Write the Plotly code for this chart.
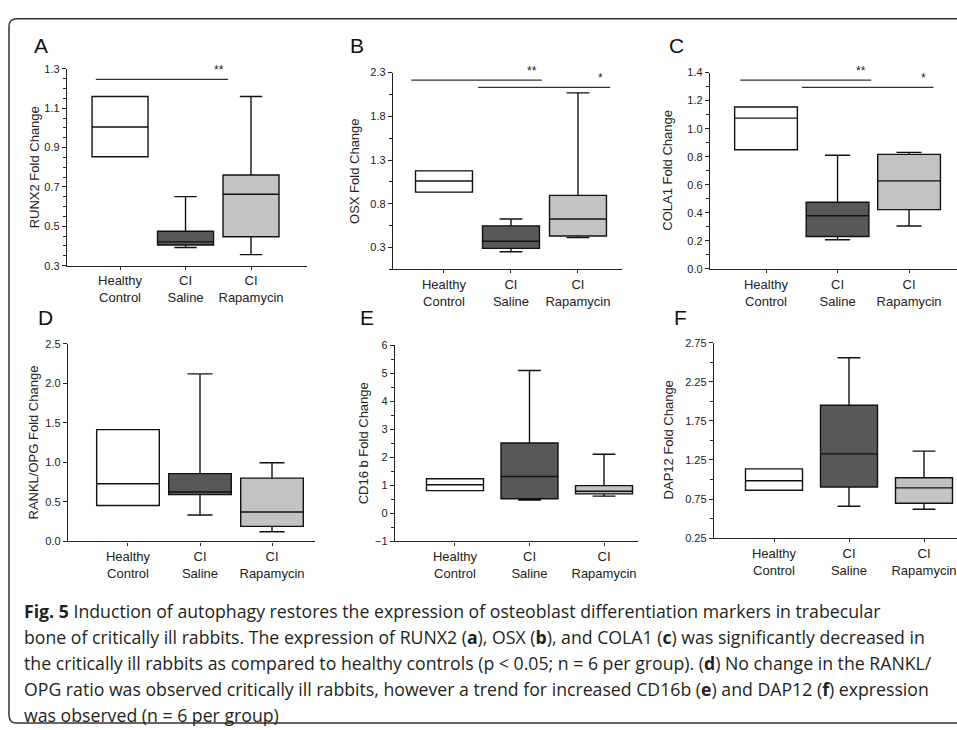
import plotly.graph_objects as go

W, H = 957, 730

# ---------------- data ----------------
CATEGORIES = ["Healthy<br>Control", "CI<br>Saline", "CI<br>Rapamycin"]

RUNX2 = dict(low=[0.854, 0.392, 0.356], q1=[0.854, 0.405, 0.447], med=[1.005, 0.421, 0.663],
             q3=[1.160, 0.475, 0.761], high=[1.160, 0.651, 1.160])
OSX = dict(low=[0.933, 0.251, 0.412], q1=[0.933, 0.289, 0.431], med=[1.060, 0.371, 0.626],
           q3=[1.176, 0.547, 0.896], high=[1.176, 0.626, 2.068])
COLA1 = dict(low=[0.850, 0.208, 0.306], q1=[0.850, 0.231, 0.423], med=[1.075, 0.379, 0.628],
             q3=[1.155, 0.475, 0.817], high=[1.155, 0.810, 0.831])
RANKL_OPG = dict(low=[0.454, 0.334, 0.122], q1=[0.454, 0.591, 0.189], med=[0.728, 0.625, 0.371],
                 q3=[1.413, 0.857, 0.799], high=[1.413, 2.118, 0.994])
CD16B = dict(low=[0.810, 0.473, 0.614], q1=[0.810, 0.520, 0.695], med=[1.020, 1.316, 0.790],
             q3=[1.234, 2.510, 0.990], high=[1.234, 5.100, 2.110])
DAP12 = dict(low=[0.862, 0.657, 0.619], q1=[0.862, 0.904, 0.695], med=[0.984, 1.328, 0.892],
             q3=[1.135, 1.949, 1.022], high=[1.135, 2.557, 1.362])

# significance bars: (x start, x end, y, label)
SIG_RUNX2 = [(-0.37, 1.65, 1.247, "**")]
SIG_OSX = [(-0.49, 1.46, 2.214, "**"), (0.51, 2.48, 2.131, "*")]
SIG_COLA1 = [(-0.36, 1.47, 1.346, "**"), (0.50, 2.34, 1.295, "*")]

CAPTION_LINES = [
    "<b>Fig. 5</b> Induction of autophagy restores the expression of osteoblast differentiation markers in trabecular",
    "bone of critically ill rabbits. The expression of RUNX2 (<b>a</b>), OSX (<b>b</b>), and COLA1 (<b>c</b>) was significantly decreased in",
    "the critically ill rabbits as compared to healthy controls (p &lt; 0.05; n = 6 per group). (<b>d</b>) No change in the RANKL/",
    "OPG ratio was observed critically ill rabbits, however a trend for increased CD16b (<b>e</b>) and DAP12 (<b>f</b>) expression",
    "was observed (n = 6 per group)",
]

# ---------------- style / layout ----------------
FILLS = ["#ffffff", "#585858", "#c3c3c3"]
INK = "#222222"
FONT = "Liberation Sans, Arial, sans-serif"

panels = [
    dict(data=RUNX2, title="RUNX2 Fold Change", letter="A", sig=SIG_RUNX2,
         px=(67, 307), py=(64, 264), xr=(-0.81, 2.855), yr=(0.3, 1.3),
         tick0=0.3, dtick=0.2, minor=0.05, fmt=".1f", bw=0.855, lxy=(41, 40), tx=34),
    dict(data=OSX, title="OSX Fold Change", letter="B", sig=SIG_OSX,
         px=(393, 622), py=(67.7, 267.7), xr=(-0.761, 2.657), yr=(0.05, 2.3),
         tick0=0.3, dtick=0.5, minor=0.25, fmt=".1f", bw=0.85, lxy=(357, 40), tx=355),
    dict(data=COLA1, title="COLA1 Fold Change", letter="C", sig=SIG_COLA1,
         px=(710, 957), py=(67.7, 267.3), xr=(-0.783, 2.67), yr=(0.0, 1.4),
         tick0=0.0, dtick=0.2, minor=0.1, fmt=".1f", bw=0.877, lxy=(676, 40), tx=668),
    dict(data=RANKL_OPG, title="RANKL/OPG Fold Change", letter="D", sig=[],
         px=(68, 315), py=(343.3, 544.3), xr=(-0.833, 2.597), yr=(0.0, 2.5),
         tick0=0.0, dtick=0.5, minor=None, fmt=".1f", bw=0.87, lxy=(45, 317), tx=34),
    dict(data=CD16B, title="CD16 b Fold Change", letter="E", sig=[],
         px=(395, 638), py=(345, 544.3), xr=(-0.805, 2.456), yr=(-1, 6),
         tick0=-1, dtick=1, minor=0.5, fmt="d", bw=0.765, lxy=(367, 317), tx=363),
    dict(data=DAP12, title="DAP12 Fold Change", letter="F", sig=[],
         px=(714, 957), py=(342.3, 541), xr=(-0.8, 2.44), yr=(0.25, 2.75),
         tick0=0.25, dtick=0.5, minor=0.25, fmt=".2f", bw=0.76, lxy=(680, 317), tx=668),
]


def fx(p):
    return p / W


def fy(p):
    return 1 - p / H


fig = go.Figure()
layout = dict(width=W, height=H, margin=dict(l=0, r=0, t=0, b=0),
              paper_bgcolor="white", plot_bgcolor="white", showlegend=False,
              font=dict(family=FONT, color=INK))
shapes, annotations = [], []

for i, p in enumerate(panels):
    n = i + 1
    xa = "xaxis" if n == 1 else f"xaxis{n}"
    ya = "yaxis" if n == 1 else f"yaxis{n}"
    xref = "x" if n == 1 else f"x{n}"
    yref = "y" if n == 1 else f"y{n}"
    d = p["data"]
    for k in range(len(CATEGORIES)):
        fig.add_trace(go.Box(
            x=[k], q1=[d["q1"][k]], median=[d["med"][k]], q3=[d["q3"][k]],
            lowerfence=[d["low"][k]], upperfence=[d["high"][k]],
            width=p["bw"], whiskerwidth=0.4, fillcolor=FILLS[k],
            line=dict(color="#111111", width=1.4), boxpoints=False,
            xaxis=xref, yaxis=yref, hoverinfo="skip"))
    layout[xa] = dict(domain=[fx(p["px"][0]), fx(p["px"][1])], anchor=yref,
                      range=list(p["xr"]), tickmode="array", tickvals=[0, 1, 2],
                      ticktext=CATEGORIES, ticks="outside", ticklen=3, tickwidth=1,
                      tickcolor=INK, showline=True, linecolor=INK, linewidth=1.4,
                      showgrid=False, zeroline=False,
                      tickfont=dict(size=13, family=FONT, color=INK))
    yax = dict(domain=[fy(p["py"][1]), fy(p["py"][0])], anchor=xref,
               range=list(p["yr"]), tickmode="linear", tick0=p["tick0"], dtick=p["dtick"],
               tickformat=p["fmt"], ticks="outside", ticklen=4, tickwidth=1,
               tickcolor=INK, showline=True, linecolor=INK, linewidth=1.4,
               showgrid=False, zeroline=False,
               tickfont=dict(size=11, family=FONT, color=INK))
    if p["minor"]:
        yax["minor"] = dict(ticks="outside", ticklen=2.5, tickwidth=1, tickcolor=INK,
                            dtick=p["minor"], tick0=p["yr"][0], showgrid=False)
    layout[ya] = yax
    # y-axis title
    annotations.append(dict(xref="paper", yref="paper", x=fx(p["tx"]),
                            y=(fy(p["py"][0]) + fy(p["py"][1])) / 2,
                            text=p["title"], textangle=-90, showarrow=False,
                            xanchor="center", yanchor="middle",
                            font=dict(size=13, family=FONT, color=INK)))
    # panel letter
    annotations.append(dict(xref="paper", yref="paper", x=fx(p["lxy"][0]), y=fy(p["lxy"][1]),
                            text=p["letter"], showarrow=False, xanchor="center",
                            yanchor="middle", font=dict(size=21, family=FONT, color="#111111")))
    # significance bars
    for (x0, x1, yv, lab) in p["sig"]:
        shapes.append(dict(type="line", xref=xref, yref=yref, x0=x0, x1=x1, y0=yv, y1=yv,
                           line=dict(color="#333333", width=1.3)))
        annotations.append(dict(xref=xref, yref=yref, x=x1 - 0.14, y=yv, yshift=9,
                                text=lab, showarrow=False, xanchor="center",
                                yanchor="middle", font=dict(size=12, family=FONT, color=INK)))

# caption
cap_y = [615, 641.5, 668, 694.5, 721]
for txt, yc in zip(CAPTION_LINES, cap_y):
    annotations.append(dict(xref="paper", yref="paper", x=fx(22), y=fy(yc), text=txt,
                            showarrow=False, xanchor="left", yanchor="middle", align="left",
                            font=dict(size=17.7, family="Open Sans, sans-serif", color="#231f20")))

# frame with rounded corner
r = 8
path = (f"M {fx(W + 5)},{fy(13)} L {fx(9 + r)},{fy(13)} Q {fx(9)},{fy(13)} {fx(9)},{fy(13 + r)} "
        f"L {fx(9)},{fy(729 - r)} Q {fx(9)},{fy(729)} {fx(9 + r)},{fy(729)} L {fx(W + 5)},{fy(729)}")
shapes.append(dict(type="path", xref="paper", yref="paper", path=path,
                   line=dict(color="#333333", width=1.5)))

layout["shapes"] = shapes
layout["annotations"] = annotations
fig.update_layout(**layout)
fig.write_html("out.html", config={"displayModeBar": False},
               post_script="document.body.style.margin='0';document.body.style.overflow='hidden';")
